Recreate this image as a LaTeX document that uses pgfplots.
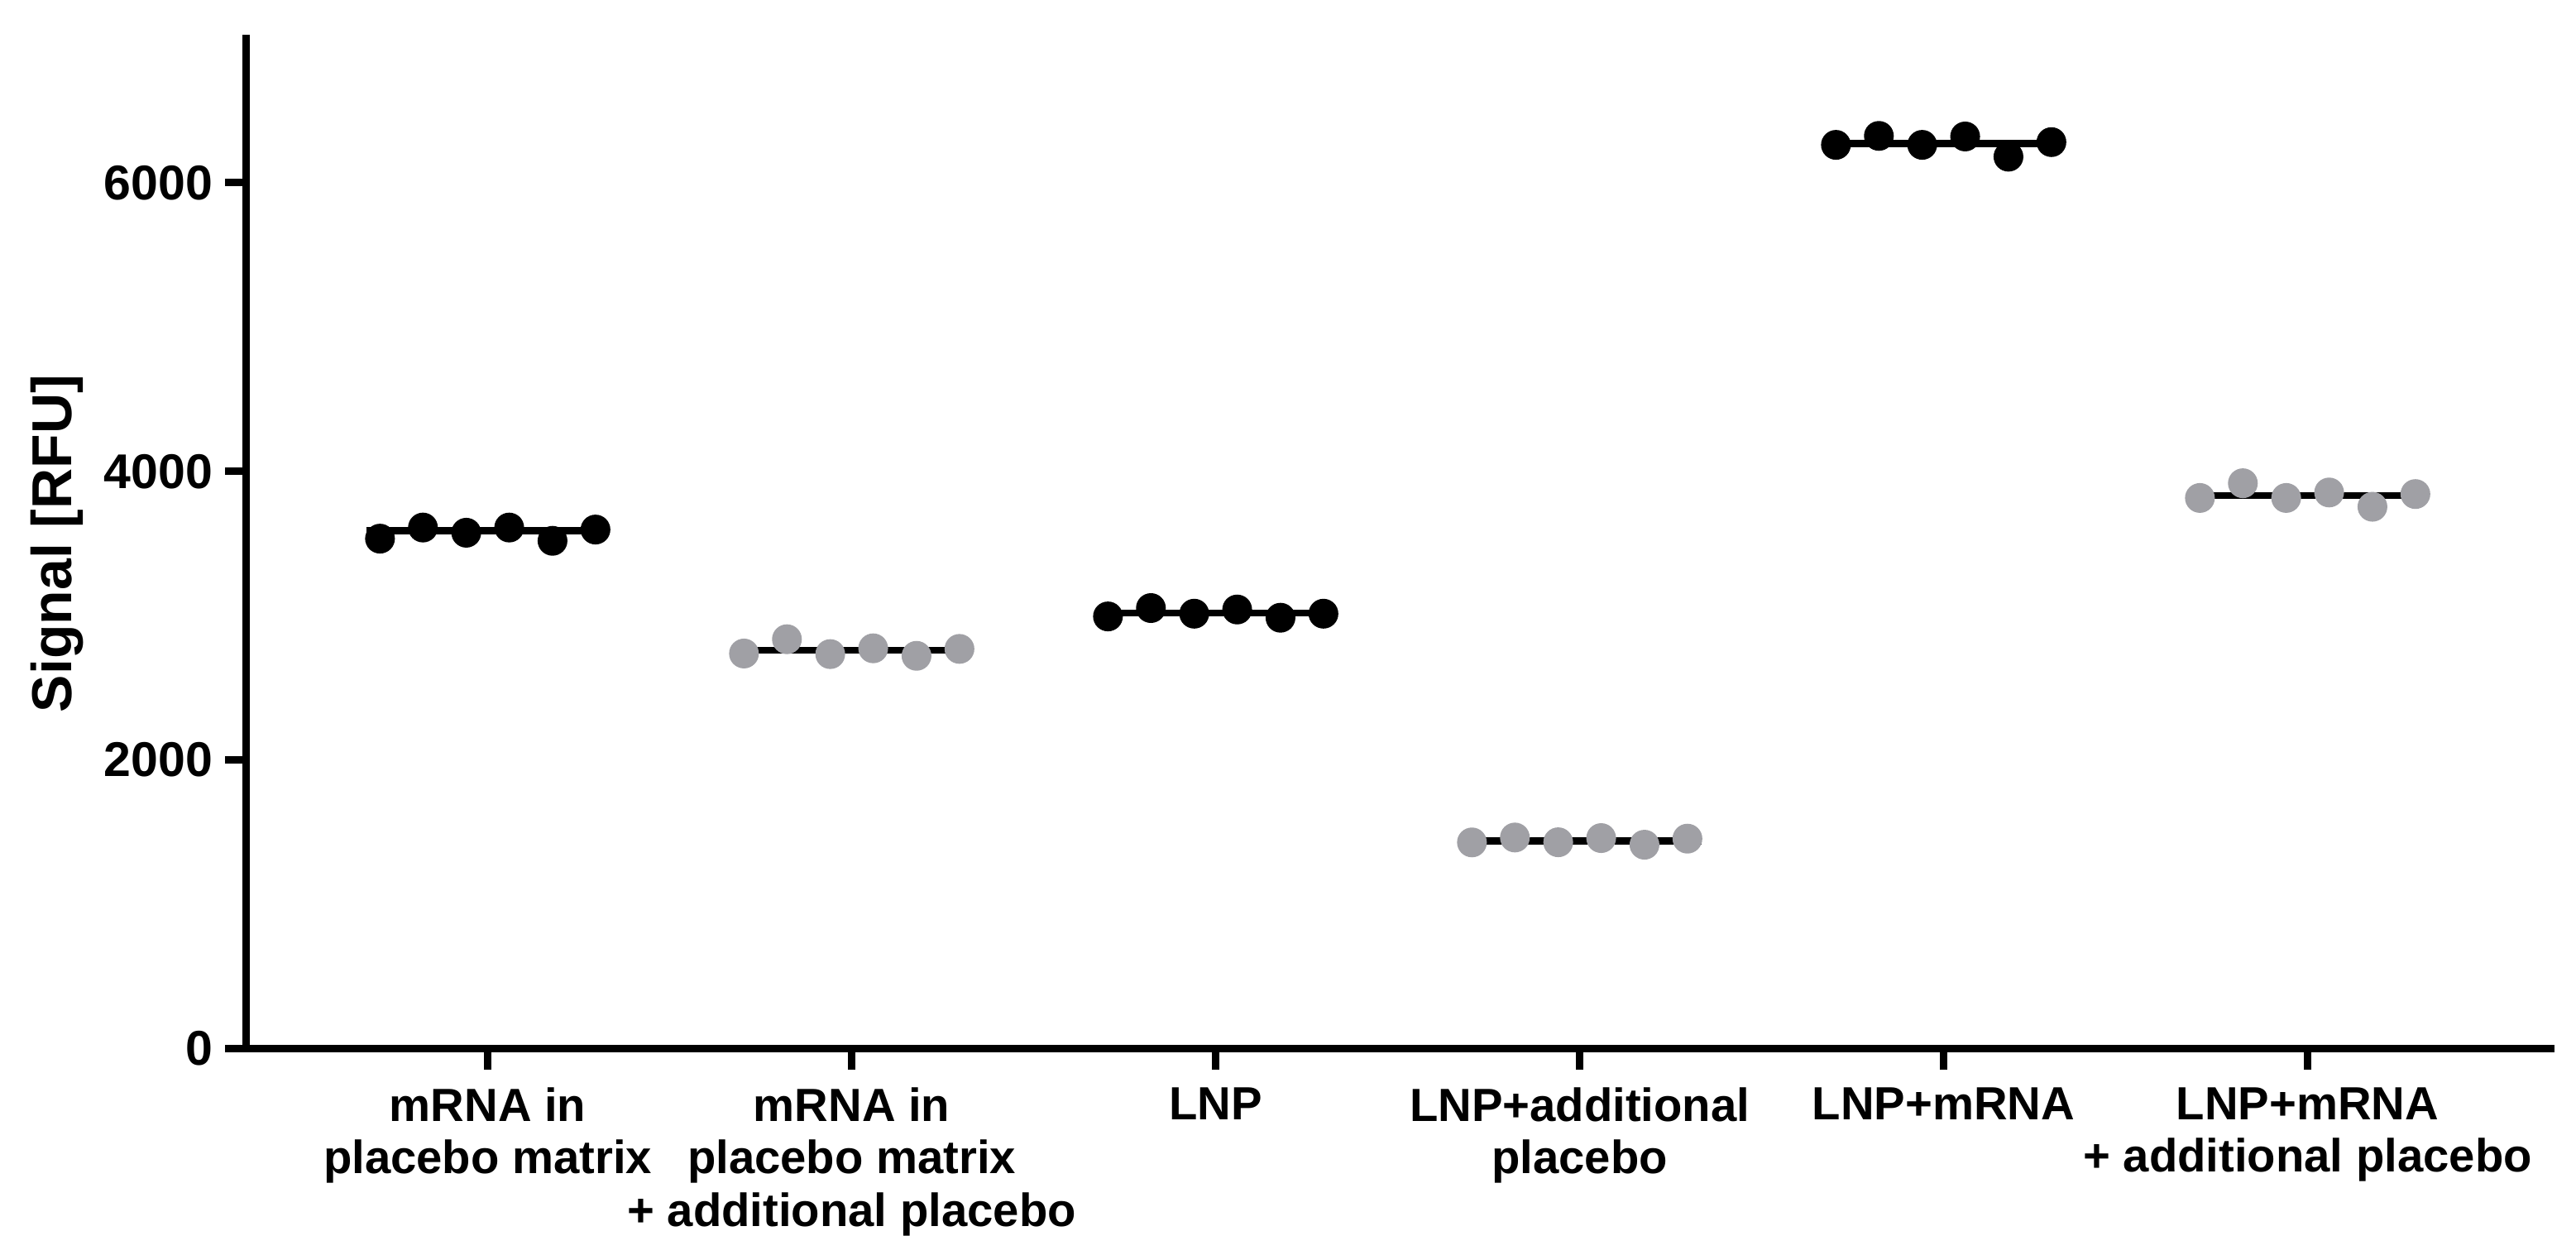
\documentclass[border=0pt]{standalone}
\usepackage{fontspec}
\setmainfont{Liberation Sans}
\usepackage{pgfplots}
\pgfplotsset{compat=1.18}
\definecolor{ptgray}{RGB}{160,160,165}
\begin{document}
\begin{tikzpicture}
\begin{axis}[
  at={(0,0)}, anchor=south west,
  scale only axis, width=557.3pt, height=244.2pt,
  xmin=-0.665, xmax=5.668, ymin=0, ymax=7000,
  axis x line*=bottom, axis y line*=left,
  axis line style={line width=1.8pt, line cap=rect},
  xtick={0,1,2,3,4,5},
  xticklabels={{mRNA in\\placebo matrix},{mRNA in\\placebo matrix\\+ additional placebo},{LNP},{LNP+additional\\placebo},{LNP+mRNA},{LNP+mRNA\\+ additional placebo}},
  ytick={0,2000,4000,6000},
  yticklabels={\textbf{0},\textbf{2000},\textbf{4000},\textbf{6000}},
  minor tick num=0,
  tick align=outside, major tick length=5pt,
  tick style={line width=1.8pt, black},
  /pgf/number format/assume math mode=true,
  x tick label style={font=\fontsize{11.25}{12.7}\selectfont\bfseries, align=center, inner sep=0pt, anchor=north, yshift=-4.2pt},
  y tick label style={font=\fontsize{11.8}{12}\selectfont\bfseries, inner sep=0pt, anchor=east, xshift=-2.8pt},
  ylabel={Signal [RFU]},
  ylabel style={font=\fontsize{13.6}{14}\selectfont\bfseries, at={([xshift=-42.1pt]axis description cs:0,0.5)}, anchor=base, inner sep=0pt},
  clip=false,
]
% median lines
\addplot[black, line width=1.7pt, no marks] coordinates {(-0.334,3588) (0.334,3588)};
\addplot[black, line width=1.7pt, no marks] coordinates {(0.666,2760) (1.334,2760)};
\addplot[black, line width=1.7pt, no marks] coordinates {(1.666,3020) (2.334,3020)};
\addplot[black, line width=1.7pt, no marks] coordinates {(2.666,1438) (3.334,1438)};
\addplot[black, line width=1.7pt, no marks] coordinates {(3.666,6273) (4.334,6273)};
\addplot[black, line width=1.7pt, no marks] coordinates {(4.666,3834) (5.334,3834)};
% points
\addplot[only marks, mark=*, mark size=3.4pt, mark options={draw=black, fill=black}] coordinates {
(-0.296,3534) (-0.178,3611) (-0.059,3575) (0.059,3611) (0.178,3519) (0.296,3597)};
\addplot[only marks, mark=*, mark size=3.4pt, mark options={draw=ptgray, fill=ptgray}] coordinates {
(0.704,2738) (0.822,2837) (0.941,2734) (1.059,2774) (1.178,2722) (1.296,2770)};
\addplot[only marks, mark=*, mark size=3.4pt, mark options={draw=black, fill=black}] coordinates {
(1.704,2995) (1.822,3053) (1.941,3014) (2.059,3043) (2.178,2986) (2.296,3014)};
\addplot[only marks, mark=*, mark size=3.4pt, mark options={draw=ptgray, fill=ptgray}] coordinates {
(2.704,1429) (2.822,1463) (2.941,1430) (3.059,1459) (3.178,1413) (3.296,1455)};
\addplot[only marks, mark=*, mark size=3.4pt, mark options={draw=black, fill=black}] coordinates {
(3.704,6263) (3.822,6325) (3.941,6263) (4.059,6321) (4.178,6181) (4.296,6282)};
\addplot[only marks, mark=*, mark size=3.4pt, mark options={draw=ptgray, fill=ptgray}] coordinates {
(4.704,3816) (4.822,3918) (4.941,3816) (5.059,3854) (5.178,3755) (5.296,3843)};
\end{axis}
\pgfresetboundingbox
\path (-59.4pt,-49.7pt) rectangle (563.4pt,253.5pt);
\end{tikzpicture}
\end{document}
